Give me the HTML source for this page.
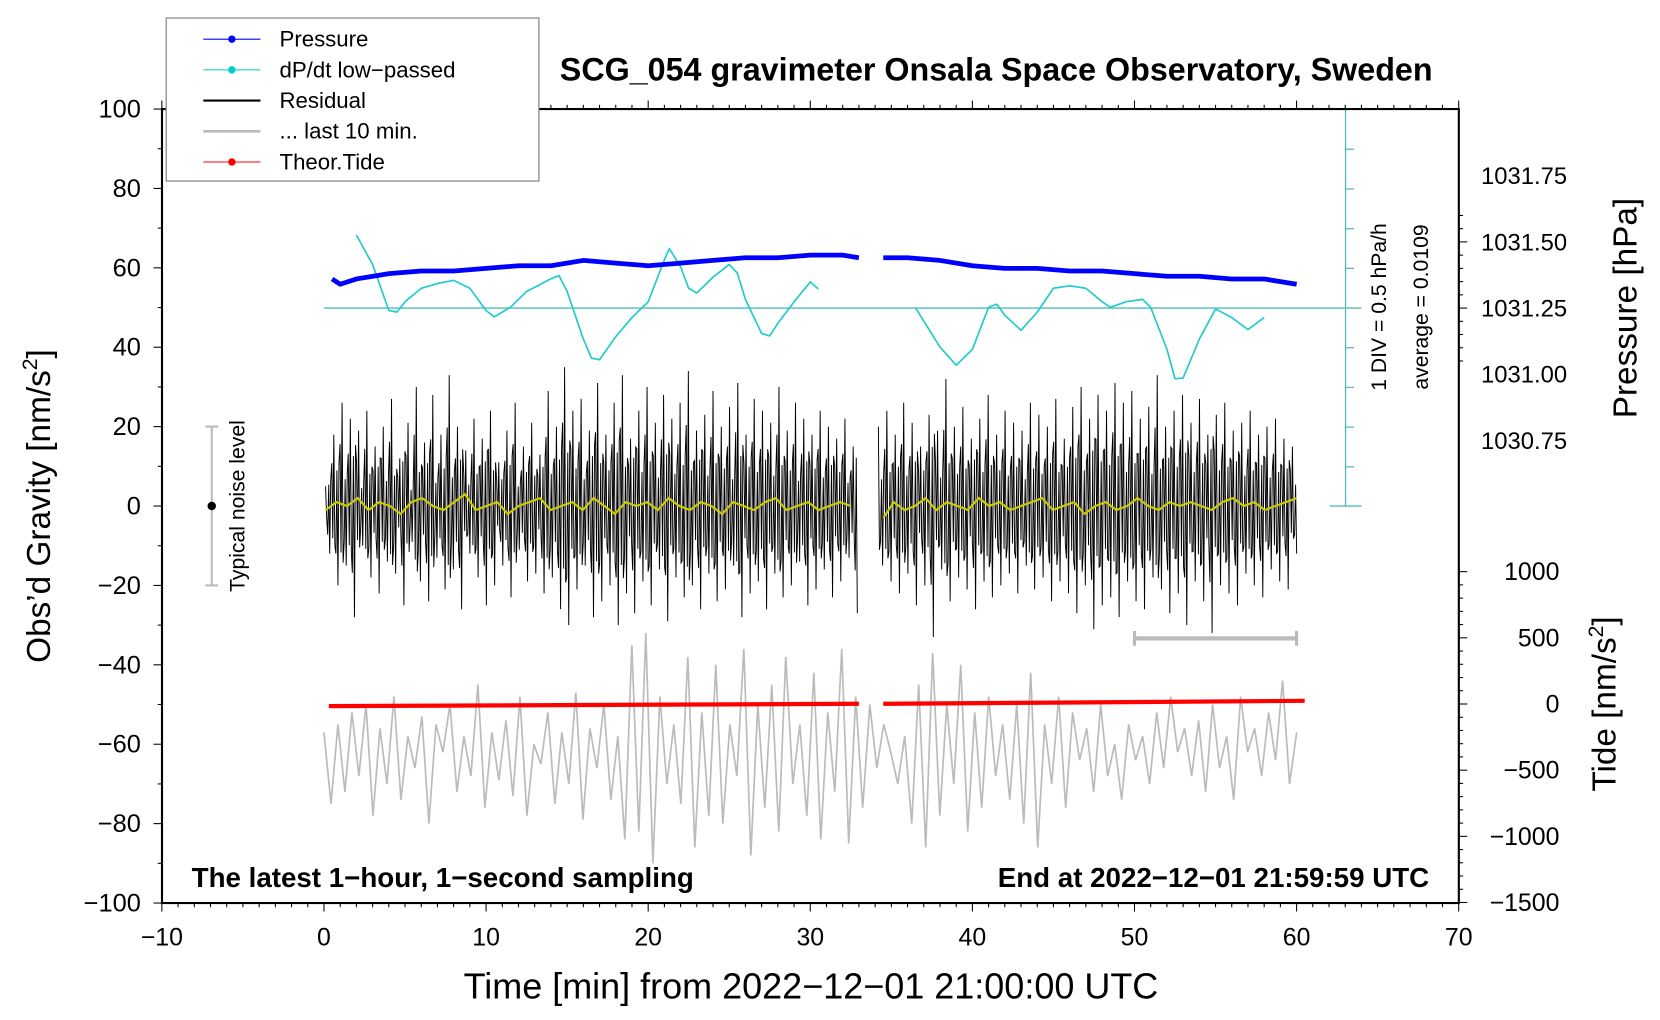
<!DOCTYPE html>
<html><head><meta charset="utf-8"><style>
html,body{margin:0;padding:0;background:#fff;}
svg{display:block;font-family:"Liberation Sans",Arial,sans-serif;}
</style></head><body>
<svg id="chart" width="1660" height="1020" viewBox="0 0 1568 963.5" xmlns="http://www.w3.org/2000/svg">
<rect x="0" y="0" width="1568" height="963.5" fill="#fff"/>
<g id="marks"></g>
<g id="axes"></g>
<text x="941" y="76" font-size="30.5" font-weight="bold" text-anchor="middle">SCG_054 gravimeter Onsala Space Observatory, Sweden</text>
<text x="766" y="943" font-size="34" text-anchor="middle">Time [min] from 2022−12−01 21:00:00 UTC</text>
<text transform="translate(47,478) rotate(-90)" font-size="31.5" text-anchor="middle">Obs’d Gravity [nm/s<tspan dy="-12" font-size="20">2</tspan><tspan dy="12">]</tspan></text>
<text transform="translate(1546,291) rotate(-90)" font-size="31.5" text-anchor="middle">Pressure [hPa]</text>
<text transform="translate(1526,665) rotate(-90)" font-size="31.5" text-anchor="middle">Tide [nm/s<tspan dy="-12" font-size="20">2</tspan><tspan dy="12">]</tspan></text>
<text x="181" y="838" font-size="26.2" font-weight="bold">The latest 1−hour, 1−second sampling</text>
<text x="1350" y="838" font-size="26.2" font-weight="bold" text-anchor="end">End at 2022−12−01 21:59:59 UTC</text>
<text transform="translate(1309,290) rotate(-90)" font-size="20" text-anchor="middle">1 DIV = 0.5 hPa/h</text>
<text transform="translate(1349,290) rotate(-90)" font-size="20" text-anchor="middle">average = 0.0109</text>
<g>
<line x1="200" y1="403" x2="200" y2="553" stroke="#bbb" stroke-width="2"/>
<line x1="194" y1="403" x2="206" y2="403" stroke="#bbb" stroke-width="2"/>
<line x1="194" y1="553" x2="206" y2="553" stroke="#bbb" stroke-width="2"/>
<circle cx="200" cy="478" r="4" fill="#000"/>
<text transform="translate(231,478) rotate(-90)" font-size="20" text-anchor="middle">Typical noise level</text>
</g>
<g>
<rect x="157" y="17" width="352" height="154" fill="#fff" stroke="#888" stroke-width="1.2"/>
<g><line x1="192" y1="37" x2="246" y2="37" stroke="#00f" stroke-width="1"/><circle cx="219" cy="37" r="3.5" fill="#00f"/><text x="264" y="44" font-size="21">Pressure</text></g>
<g><line x1="192" y1="66" x2="246" y2="66" stroke="#00cccc" stroke-width="1"/><circle cx="219" cy="66" r="3.5" fill="#00cccc"/><text x="264" y="73" font-size="21">dP/dt low−passed</text></g>
<g><line x1="192" y1="95" x2="246" y2="95" stroke="#000" stroke-width="2"/><text x="264" y="102" font-size="21">Residual</text></g>
<g><line x1="192" y1="124" x2="246" y2="124" stroke="#bbb" stroke-width="2.5"/><text x="264" y="131" font-size="21">... last 10 min.</text></g>
<g><line x1="192" y1="153" x2="246" y2="153" stroke="#f00" stroke-width="1"/><circle cx="219" cy="153" r="3.5" fill="#f00"/><text x="264" y="160" font-size="21">Theor.Tide</text></g>
</g>
</svg>
<script>
// ---- data ----
const pressTimes = [0.5,1,2,4,6,8,10,12,14,16,18,20,22,24,26,28,30,32,33, null, 34.5,36,38,40,42,44,46,48,50,52,54,56,58,60];
const pressVals = [1031.36,1031.34,1031.36,1031.38,1031.39,1031.39,1031.40,1031.41,1031.41,1031.43,1031.42,1031.41,1031.42,1031.43,1031.44,1031.44,1031.45,1031.45,1031.44, null, 1031.44,1031.44,1031.43,1031.41,1031.40,1031.40,1031.39,1031.39,1031.38,1031.37,1031.37,1031.36,1031.36,1031.34];
const dpTimes = [2,3,4,4.5,5,6,7,8,9,10,10.5,11.5,12.5,14,14.5,15,16,16.5,17,18,19,20,21,21.3,22,22.5,23,24,25,25.5,26,27,27.5,28,29,30,30.5,null,36.5,38,39,40,41,41.5,42,43,44,45,46,47,48,48.5,49.5,50.5,51,52,52.5,53,54,55,56,57,58];
const dpVals = [0.92,0.55,-0.03,-0.05,0.08,0.25,0.31,0.35,0.25,-0.03,-0.11,0.01,0.21,0.37,0.41,0.21,-0.39,-0.63,-0.65,-0.36,-0.12,0.08,0.61,0.75,0.52,0.25,0.19,0.39,0.55,0.44,0.11,-0.32,-0.35,-0.19,0.08,0.33,0.24,null,0.0,-0.49,-0.72,-0.52,0.01,0.05,-0.09,-0.28,-0.05,0.25,0.28,0.25,0.08,0.01,0.08,0.11,0.01,-0.52,-0.89,-0.88,-0.39,-0.01,-0.12,-0.27,-0.12];
const res1 = [5,-12,18,-20,26,-15,22,-28,19,-10,24,-18,15,-22,20,-14,27,-17,12,-25,21,-9,30,-19,16,-24,28,-13,18,-21,33,-16,20,-26,14,-12,22,-18,17,-25,24,-20,11,-15,19,-23,26,-11,15,-19,21,-17,13,-22,29,-18,20,-26,35,-30,24,-21,27,-15,19,-28,31,-24,18,-20,26,-30,33,-22,17,-27,24,-19,30,-25,21,-16,28,-29,22,-18,26,-23,34,-20,19,-26,23,-17,29,-24,20,-21,25,-15,31,-28,18,-22,27,-19,24,-26,21,-17,30,-23,19,-20,26,-14,22,-25,18,-21,24,-16,20,-23,17,-19,22,-13,15,-27];
const res2 = [20,-15,24,-19,18,-22,26,-17,21,-25,15,-20,23,-33,19,-16,32,-24,20,-18,25,-21,17,-26,22,-19,28,-23,18,-20,24,-17,21,-22,19,-15,26,-21,23,-18,20,-24,27,-19,17,-22,25,-27,30,-20,22,-31,28,-25,24,-23,31,-28,26,-19,29,-24,22,-26,25,-18,33,-21,20,-27,24,-22,28,-30,21,-19,27,-24,18,-32,23,-20,26,-22,19,-25,21,-17,24,-20,18,-23,20,-16,22,-19,17,-21,15,-12];
const smooth1 = [-1,1,0,2,-1,1,0,-2,1,2,0,-1,1,3,-1,0,1,-2,0,1,2,-1,0,1,-1,2,0,-2,1,0,1,-1,2,0,-1,1,0,-2,1,0,-1,1,2,-1,0,1,-1,0,1,0];
const smooth2 = [-3,1,-1,0,2,-1,1,0,-1,2,0,1,-1,0,1,2,-1,0,1,-2,0,1,-1,0,2,0,-1,1,0,1,0,-1,1,2,0,1,-1,0,1,2];
const last10 = [-57,-75,-55,-72,-52,-68,-50,-78,-56,-70,-48,-74,-58,-66,-53,-80,-55,-62,-50,-72,-58,-68,-45,-76,-57,-69,-54,-73,-48,-78,-60,-65,-52,-75,-57,-70,-47,-79,-56,-66,-50,-74,-58,-84,-35,-82,-32,-90,-48,-70,-55,-75,-38,-86,-52,-78,-40,-80,-55,-68,-36,-88,-50,-76,-45,-82,-38,-70,-55,-78,-42,-84,-52,-72,-36,-85,-48,-76,-50,-66,-55,-62,-70,-58,-80,-45,-86,-37,-78,-50,-70,-40,-82,-52,-76,-48,-68,-55,-74,-50,-80,-42,-86,-55,-70,-48,-76,-52,-64,-56,-72,-50,-68,-60,-74,-55,-64,-58,-70,-52,-66,-48,-62,-56,-68,-54,-72,-50,-66,-58,-74,-48,-62,-56,-68,-52,-64,-44,-70,-57];
const tideTimes = [0.3,33,null,34.5,60.5];
const tideVals = [-16,2,null,2,24];
const xTicks = [-10,0,10,20,30,40,50,60,70];
const yTicks = [-100,-80,-60,-40,-20,0,20,40,60,80,100];
const pTicks = ["1030.75","1031.00","1031.25","1031.50","1031.75"];
const tTicks = [-1500,-1000,-500,0,500,1000];

// ---- axis functions ----
const X = t => 306 + (t) * 15.3125;
const Y = v => 478 - v * 3.75;
const YP = p => 291 - (p - 1031.25) * 250;
const YT = v => 665 - v * 0.125;
const YD = d => 291 - d * 75;
const NS = "http://www.w3.org/2000/svg";
const marks = document.getElementById('marks');
const axes = document.getElementById('axes');
function mk(tag, attrs, parent) {
  const e = document.createElementNS(NS, tag);
  for (const k in attrs) e.setAttribute(k, attrs[k]);
  parent.appendChild(e); return e;
}
function pathFrom(ts, vs, yf) {
  let d = '', pen = false;
  for (let i = 0; i < ts.length; i++) {
    if (ts[i] === null || vs[i] === null) { pen = false; continue; }
    d += (pen ? 'L' : 'M') + X(ts[i]).toFixed(1) + ' ' + yf(vs[i]).toFixed(1);
    pen = true;
  }
  return d;
}
function seq(arr, t0, t1) { return arr.map((_, i) => t0 + (t1 - t0) * i / (arr.length - 1)); }
function densePath(arr, t0, t1) {
  const ts = seq(arr, t0, t1);
  let d = '';
  for (let i = 0; i < arr.length; i++) {
    d += (i ? 'L' : 'M') + X(ts[i]).toFixed(1) + ' ' + Y(arr[i]).toFixed(1);
    if (i < arr.length - 1) {
      const dt = ts[i + 1] - ts[i];
      const a = arr[i], b = arr[i + 1];
      d += 'L' + X(ts[i] + dt * 0.25).toFixed(1) + ' ' + Y(-0.55 * a).toFixed(1);
      d += 'L' + X(ts[i] + dt * 0.5).toFixed(1) + ' ' + Y(0.6 * b).toFixed(1);
      d += 'L' + X(ts[i] + dt * 0.75).toFixed(1) + ' ' + Y(-0.45 * b).toFixed(1);
    }
  }
  return d;
}

const gl = mk('path', {d: pathFrom(seq(last10, 0, 60), last10, Y), fill: 'none', stroke: '#bbb', 'stroke-width': 1.6}, marks);


const r1 = mk('path', {d: densePath(res1, 0.1, 32.9), fill: 'none', stroke: '#000', 'stroke-width': 0.9}, marks);


const r2 = mk('path', {d: densePath(res2, 34.2, 60.0), fill: 'none', stroke: '#000', 'stroke-width': 0.9}, marks);


const s1 = mk('path', {d: pathFrom(seq(smooth1, 0.1, 32.5), smooth1, Y), fill: 'none', stroke: '#cccc00', 'stroke-width': 2}, marks);


const s2 = mk('path', {d: pathFrom(seq(smooth2, 34.5, 60.0), smooth2, Y), fill: 'none', stroke: '#cccc00', 'stroke-width': 2}, marks);


const td = mk('path', {d: pathFrom(tideTimes, tideVals, YT), fill: 'none', stroke: '#f00', 'stroke-width': 4}, marks);


const cax = mk('g', {}, marks);


mk('line', {x1: 306, y1: 291, x2: 1286, y2: 291, stroke: '#55bbbb', 'stroke-width': 1.3}, cax);
mk('line', {x1: 1271, y1: 103, x2: 1271, y2: 478, stroke: '#55bbbb', 'stroke-width': 1.3}, cax);
mk('line', {x1: 1256, y1: 103, x2: 1286, y2: 103, stroke: '#55bbbb', 'stroke-width': 1.3}, cax);
mk('line', {x1: 1256, y1: 478, x2: 1286, y2: 478, stroke: '#55bbbb', 'stroke-width': 1.3}, cax);
for (let k = -4; k <= 4; k++) { if (k === 0) continue; const y = YD(k * 0.5); mk('line', {x1: 1271, y1: y, x2: 1279, y2: y, stroke: '#55bbbb', 'stroke-width': 1.2}, cax); }
const dp = mk('path', {d: pathFrom(dpTimes, dpVals, YD), fill: 'none', stroke: '#22cccc', 'stroke-width': 1.6, 'stroke-linejoin': 'round'}, marks);


const pr = mk('path', {d: pathFrom(pressTimes, pressVals, YP), fill: 'none', stroke: '#0000ff', 'stroke-width': 4.5, 'stroke-linejoin': 'round'}, marks);


const bar = mk('g', {}, marks);


mk('line', {x1: X(50), y1: 603, x2: X(60), y2: 603, stroke: '#bbb', 'stroke-width': 4}, bar);
mk('line', {x1: X(50), y1: 596, x2: X(50), y2: 610, stroke: '#bbb', 'stroke-width': 3}, bar);
mk('line', {x1: X(60), y1: 596, x2: X(60), y2: 610, stroke: '#bbb', 'stroke-width': 3}, bar);

const fr = mk('rect', {x: 153, y: 103, width: 1225, height: 750, fill: 'none', stroke: '#000', 'stroke-width': 2}, axes);


for (let t = -10; t <= 70; t++) {
  const len = t % 10 === 0 ? 8 : 4;
  mk('line', {x1: X(t), y1: 853, x2: X(t), y2: 853 + len, stroke: '#000', 'stroke-width': 1}, axes);
  mk('line', {x1: X(t), y1: 103, x2: X(t), y2: 103 - len, stroke: '#000', 'stroke-width': 1}, axes);
}
xTicks.forEach(t => {
  const e = mk('text', {x: X(t), y: 893, 'font-size': 23.5, 'text-anchor': 'middle'}, axes);
  
  
  e.textContent = String(t).replace('-', '−');
});
for (let v = -100; v <= 100; v += 10) {
  const len = v % 20 === 0 ? 8 : 4;
  mk('line', {x1: 153 - len, y1: Y(v), x2: 153, y2: Y(v), stroke: '#000', 'stroke-width': 1}, axes);
}
yTicks.forEach(v => {
  const e = mk('text', {x: 133, y: Y(v) + 8, 'font-size': 24, 'text-anchor': 'end'}, axes);
  
  
  e.textContent = String(v).replace('-', '−');
});
for (let k = -4; k <= 7; k++) {
  const p = 1031.25 + k * 0.05; const y = YP(p);
  if (y < 103 || y > 478) continue;
  const len = k % 5 === 0 ? 8 : 4;
  mk('line', {x1: 1378, y1: y, x2: 1378 + len, y2: y, stroke: '#000', 'stroke-width': 1}, axes);
}
pTicks.forEach(s => {
  const e = mk('text', {x: 1399, y: YP(parseFloat(s)) + 8, 'font-size': 22.5}, axes);
  
  
  e.textContent = s;
});
for (let v = -1500; v <= 1000; v += 100) {
  const len = v % 500 === 0 ? 8 : 4;
  mk('line', {x1: 1378, y1: YT(v), x2: 1378 + len, y2: YT(v), stroke: '#000', 'stroke-width': 1}, axes);
}
tTicks.forEach(v => {
  const e = mk('text', {x: 1473, y: YT(v) + 8, 'font-size': 23.5, 'text-anchor': 'end'}, axes);
  
  
  e.textContent = String(v).replace('-', '−');
});
</script>
</body></html>
